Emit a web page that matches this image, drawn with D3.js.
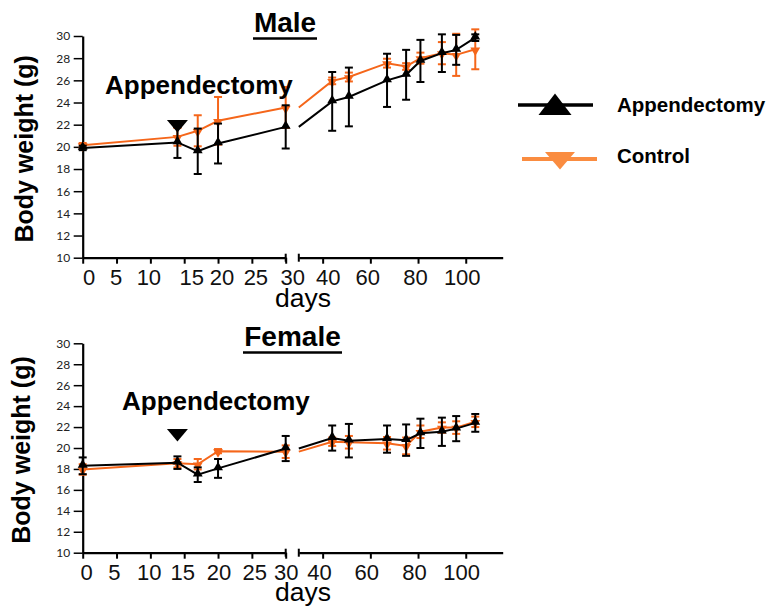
<!DOCTYPE html>
<html><head><meta charset="utf-8">
<script src="https://cdn.jsdelivr.net/npm/d3@7/dist/d3.min.js"></script>
<style>
body{margin:0;background:#fff;}
svg{display:block;}
</style></head>
<body>
<svg id="c" width="773" height="606"></svg>
<script>
// ---------- data ----------
const days = [0, 14, 17, 20, 30, 44, 51, 67, 75, 81, 90, 96, 104];
const seriesNames = ["Appendectomy", "Control"];
const xTicks1 = [0, 5, 10, 15, 20, 25, 30];
const xTicks2 = [40, 60, 80, 100];
const yTicks = [10, 12, 14, 16, 18, 20, 22, 24, 26, 28, 30];
const surgeryDay = 14;

const maleAppMean  = [19.9, 20.4, 19.6, 20.3, 21.8, 24.1, 24.5, 26.0, 26.5, 27.75, 28.45, 28.75, 29.85];
const maleAppErr   = [0.2, 1.4, 2.05, 1.8, 1.95, 2.65, 2.65, 2.4, 2.25, 1.9, 1.7, 1.35, 0.3];
const maleCtlMean  = [20.15, 20.9, 21.45, 22.35, 23.55, 25.95, 26.3, 27.55, 27.25, 28.0, 28.45, 28.3, 28.8];
const maleCtlErr   = [0.2, 0.8, 1.4, 2.15, 1.85, 0.3, 0.4, 0.4, 0.3, 0.5, 1.0, 1.9, 1.8];

const femAppMean   = [18.3, 18.6, 17.45, 18.05, 19.95, 20.95, 20.7, 20.85, 20.75, 21.4, 21.55, 21.85, 22.4];
const femAppErr    = [0.8, 0.6, 0.7, 0.9, 1.2, 1.2, 1.6, 1.3, 1.5, 1.4, 1.35, 1.2, 0.85];
const femCtlMean   = [17.95, 18.55, 18.45, 19.7, 19.65, 20.6, 20.55, 20.45, 20.2, 21.55, 21.95, 21.95, 22.5];
const femCtlErr    = [0.5, 0.4, 0.5, 0.2, 0.6, 0.4, 0.6, 0.6, 0.8, 0.6, 0.5, 0.6, 0.5];

// ---------- style ----------
const BLACK = "#000";
const ORANGE = "#F5661A";
const ORANGE_LEG = "#FA8C40";
const ARIAL = "'Liberation Sans', Arial, sans-serif";

const svg = d3.select("#c");

const xs1 = d3.scaleLinear().domain([0, 30]).range([82.7, 285.7]);
const xs2 = d3.scaleLinear().domain([30, 115.5]).range([298.8, 502.7]);

function panel(cfg) {
  const g = svg.append("g");
  const ys = d3.scaleLinear().domain([10, 30]).range([cfg.y0, cfg.y1]);

  // y axis
  const ya = g.append("g").attr("transform", `translate(${xs1(0)},0)`)
    .call(d3.axisLeft(ys).tickValues(yTicks).tickSize(9).tickSizeOuter(0).tickPadding(3.5));
  ya.select(".domain").attr("stroke", BLACK).attr("stroke-width", 2.2);
  ya.selectAll(".tick line").attr("stroke", BLACK).attr("stroke-width", 1.5);
  ya.selectAll(".tick text").attr("font-family", "Lato, sans-serif").attr("font-size", 12).attr("fill", "#222");

  // x axis segment 1
  const xa1 = g.append("g").attr("transform", `translate(0,${cfg.y0})`)
    .call(d3.axisBottom(xs1).tickValues(xTicks1).tickSize(6).tickSizeOuter(0).tickPadding(5.5));
  // x axis segment 2
  const xa2 = g.append("g").attr("transform", `translate(0,${cfg.y0})`)
    .call(d3.axisBottom(xs2).tickValues(xTicks2).tickSize(6).tickSizeOuter(0).tickPadding(5.5));
  [[xa1, cfg.dx1], [xa2, cfg.dx2]].forEach(([a, dx]) => {
    a.select(".domain").attr("stroke", BLACK).attr("stroke-width", 2.2);
    a.selectAll(".tick line").attr("stroke", BLACK).attr("stroke-width", 2);
    a.selectAll(".tick text").attr("font-family", ARIAL).attr("font-size", 22).attr("fill", "#111")
      .attr("dx", (d, i) => dx[i]);
  });
  // break end caps
  [xs1(30), xs2(30)].forEach(x => {
    g.append("line").attr("x1", x).attr("x2", x).attr("y1", cfg.y0 - 4).attr("y2", cfg.y0 + 4)
      .attr("stroke", BLACK).attr("stroke-width", 2);
  });

  // series
  const series = [
    {mean: cfg.ctlMean, err: cfg.ctlErr, color: ORANGE, rot: 180},
    {mean: cfg.appMean, err: cfg.appErr, color: BLACK, rot: 0}
  ];
  const tri = d3.symbol(d3.symbolTriangle, 42);
  series.forEach(s => {
    const pts = days.map((d, i) => ({d, v: s.mean[i], e: s.err[i]}));
    const seg1 = pts.filter(p => p.d <= 30);
    const seg2 = pts.filter(p => p.d >= 30);
    const l1 = d3.line().x(p => xs1(p.d)).y(p => ys(p.v));
    const l2 = d3.line().x(p => xs2(p.d)).y(p => ys(p.v));
    g.append("path").attr("d", l1(seg1)).attr("fill", "none").attr("stroke", s.color).attr("stroke-width", 2);
    g.append("path").attr("d", l2(seg2)).attr("fill", "none").attr("stroke", s.color).attr("stroke-width", 2);
    const xp = p => p.d <= 30 ? xs1(p.d) : xs2(p.d);
    const eb = g.append("g").attr("stroke", s.color).attr("stroke-width", 2);
    pts.forEach(p => {
      const x = xp(p);
      eb.append("line").attr("x1", x).attr("x2", x).attr("y1", ys(p.v - p.e)).attr("y2", ys(p.v + p.e));
      eb.append("line").attr("x1", x - 4).attr("x2", x + 4).attr("y1", ys(p.v - p.e)).attr("y2", ys(p.v - p.e));
      eb.append("line").attr("x1", x - 4).attr("x2", x + 4).attr("y1", ys(p.v + p.e)).attr("y2", ys(p.v + p.e));
    });
    g.append("g").selectAll("path").data(pts).join("path")
      .attr("d", tri)
      .attr("transform", p => `translate(${xp(p)},${ys(p.v) + (s.rot ? 1 : -1)}) rotate(${s.rot})`)
      .attr("fill", s.color);
  });

  // title
  g.append("text").attr("x", cfg.titleX).attr("y", cfg.titleY).attr("text-anchor", "middle")
    .attr("font-family", ARIAL).attr("font-weight", "bold").attr("font-size", 28).text(cfg.title);
  const tw = cfg.title.length > 4 ? 99 : 64;
  g.append("line").attr("x1", cfg.titleX - tw / 2).attr("x2", cfg.titleX + tw / 2)
    .attr("y1", cfg.titleY + 6.5).attr("y2", cfg.titleY + 6.5).attr("stroke", BLACK).attr("stroke-width", 2.5);

  // y label
  g.append("text").attr("transform", `translate(${cfg.ylabX},${(cfg.y0 + cfg.y1) / 2 + 2}) rotate(-90)`)
    .attr("text-anchor", "middle").attr("font-family", ARIAL).attr("font-weight", "bold")
    .attr("font-size", 25).text("Body weight (g)");

  // x label
  g.append("text").attr("x", 303).attr("y", cfg.daysY).attr("text-anchor", "middle")
    .attr("font-family", ARIAL).attr("font-size", 26.5).text("days");

  // surgery annotation
  const ax = xs1(surgeryDay);
  g.append("path")
    .attr("d", `M${ax - 10.5},${cfg.arrowTop}L${ax + 10.5},${cfg.arrowTop}L${ax},${cfg.arrowTop + 12.5}Z`)
    .attr("fill", BLACK);
  g.append("text").attr("x", cfg.annX).attr("y", cfg.annY)
    .attr("font-family", ARIAL).attr("font-weight", "bold").attr("font-size", 26).text("Appendectomy");
}

panel({y0: 257.7, y1: 36, appMean: maleAppMean, appErr: maleAppErr, ctlMean: maleCtlMean, ctlErr: maleCtlErr,
  title: "Male", titleX: 285, titleY: 32, ylabX: 33, daysY: 307, arrowTop: 120, annX: 105, annY: 94,
  dx1: [6, -1, -2, 7, 3.5, 3.5, 6.5], dx2: [5, -3, -3, -4]});
panel({y0: 552.7, y1: 343.3, appMean: femAppMean, appErr: femAppErr, ctlMean: femCtlMean, ctlErr: femCtlErr,
  title: "Female", titleX: 292.5, titleY: 346, ylabX: 30, daysY: 601, arrowTop: 429, annX: 122, annY: 410,
  dx1: [3.3, -2.7, -1.7, -2, 0.5, 2.3, 0], dx2: [-3.7, -4, -4, -4.7]});

// legend
const lg = svg.append("g");
lg.append("line").attr("x1", 518).attr("x2", 593).attr("y1", 105).attr("y2", 105).attr("stroke", BLACK).attr("stroke-width", 3.5);
lg.append("path").attr("d", "M538.5,115L571.5,115L555,93.5Z").attr("fill", BLACK);
lg.append("text").attr("x", 617).attr("y", 112).attr("font-family", ARIAL).attr("font-weight", "bold")
  .attr("font-size", 20.5).text(seriesNames[0]);
lg.append("line").attr("x1", 522).attr("x2", 597).attr("y1", 159).attr("y2", 159).attr("stroke", ORANGE_LEG).attr("stroke-width", 4);
lg.append("path").attr("d", "M545,152L575,152L560,169.5Z").attr("fill", ORANGE_LEG);
lg.append("text").attr("x", 617).attr("y", 163).attr("font-family", ARIAL).attr("font-weight", "bold")
  .attr("font-size", 20.5).text(seriesNames[1]);
</script>
</body></html>
